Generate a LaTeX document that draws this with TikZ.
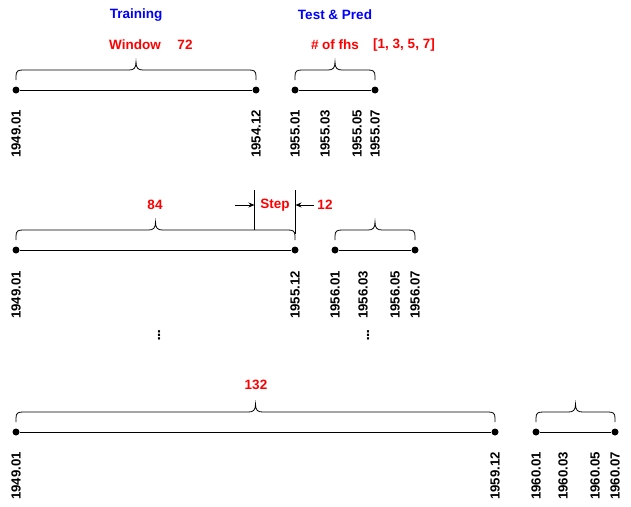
\documentclass[tikz,border=0pt]{standalone}
\usepackage{fontspec}
\setmainfont{Liberation Sans}
\newfontfamily\symfont{DejaVu Sans}
\usetikzlibrary{arrows.meta}
\newcommand\cbrace[3]{% x1, x2, ybottom
  \pgfmathsetmacro\xm{(#1+#2)/2}
  \draw[line width=0.8pt] (#1,#3) -- (#1,#3-4)
    .. controls (#1,#3-9) and (#1+2,#3-10) .. (#1+7,#3-10)
    -- (\xm-7,#3-10)
    .. controls (\xm-2,#3-10) and (\xm,#3-12) .. (\xm,#3-18)
    .. controls (\xm,#3-12) and (\xm+2,#3-10) .. (\xm+7,#3-10)
    -- (#2-7,#3-10)
    .. controls (#2-2,#3-10) and (#2,#3-9) .. (#2,#3-4)
    -- (#2,#3);}
\begin{document}
\begin{tikzpicture}[x=1pt,y=-1pt,
  every node/.style={font=\fontsize{13.5}{15}\selectfont\bfseries},
  pt/.style={circle,fill=black,inner sep=0pt,minimum size=7pt},
  tl/.style={line width=1pt},
  lab/.style={rotate=90,anchor=east,inner sep=0pt,font=\fontsize{13.2}{15}\selectfont\bfseries},
  red/.style={text=red},
  blue/.style={text=blue},
  vd/.style={inner sep=0pt,font=\fontsize{12}{13}\selectfont\symfont\bfseries},
  arr/.style={-{Stealth[length=6pt,width=5pt]},line width=0.8pt}]
\useasboundingbox (0,0) rectangle (631,506);
% titles
\node[blue] (tr) at (136,15) {Training};
\node[blue] (tp) at (335,15) {Test \& Pred};
\node[red] (win) at (135,45) {Window};
\node[red] (w72) at (185,45) {72};
\node[red] (fhs) at (335,45) {\# of fhs};
\node[red] (fl) at (404,45) {[1, 3, 5, 7]};
% row 1
\node[pt] (a1) at (16,90) {};
\node[pt] (a2) at (256,90) {};
\node[pt] (b1) at (295,90) {};
\node[pt] (b2) at (375,90) {};
\draw[tl] (a1) -- (a2);
\draw[tl] (b1) -- (b2);
\cbrace{16}{256}{80}
\cbrace{295}{375}{80}
\node[lab] (la1) at (16,110) {1949.01};
\node[lab] (la2) at (256,110) {1954.12};
\node[lab] (lb1) at (295,110) {1955.01};
\node[lab] (lb2) at (325,110) {1955.03};
\node[lab] (lb3) at (357,110) {1955.05};
\node[lab] (lb4) at (375,110) {1955.07};
% row 2
\node[red] (n84) at (155,205) {84};
\node[pt] (c1) at (16,250) {};
\node[pt] (c2) at (295,250) {};
\node[pt] (d1) at (335,250) {};
\node[pt] (d2) at (415,250) {};
\draw[tl] (c1) -- (c2);
\draw[tl] (d1) -- (d2);
\cbrace{16}{295}{240}
\cbrace{335}{415}{240}
\node[lab] (lc1) at (16,271) {1949.01};
\node[lab] (lc2) at (295,271) {1955.12};
\node[lab] (ld1) at (335,271) {1956.01};
\node[lab] (ld2) at (363,271) {1956.03};
\node[lab] (ld3) at (395,271) {1956.05};
\node[lab] (ld4) at (415,271) {1956.07};
% step
\coordinate (s1t) at (254.5,190);
\coordinate (s1b) at (254.5,230);
\coordinate (s2t) at (295.5,190);
\coordinate (s2b) at (295.5,234);
\draw[line width=0.8pt] (s1t) -- (s1b);
\draw[line width=0.8pt] (s2t) -- (s2b);
\node[red] (step) at (275,205) {Step};
\node[red] (n12) at (325,205) {12};
\coordinate (al) at (235,205);
\coordinate (ar) at (254.5,205);
\coordinate (br2) at (295.5,205);
\draw[arr] (al) -- (ar);
\draw[arr] (n12.west) -- (br2);
% dots
\node[vd] (v1) at (159,335) {⋮};
\node[vd] (v2) at (368,335) {⋮};
% row 3
\node[red] (n132) at (256,385) {132};
\node[pt] (e1) at (16,432) {};
\node[pt] (e2) at (495,432) {};
\node[pt] (f1) at (536,432) {};
\node[pt] (f2) at (615,432) {};
\draw[tl] (e1) -- (e2);
\draw[tl] (f1) -- (f2);
\cbrace{16}{495}{422}
\cbrace{536}{615}{422}
\node[lab] (le1) at (16,452) {1949.01};
\node[lab] (le2) at (495,452) {1959.12};
\node[lab] (lf1) at (536,452) {1960.01};
\node[lab] (lf2) at (563,452) {1960.03};
\node[lab] (lf3) at (595,452) {1960.05};
\node[lab] (lf4) at (615,452) {1960.07};
\end{tikzpicture}
\end{document}
